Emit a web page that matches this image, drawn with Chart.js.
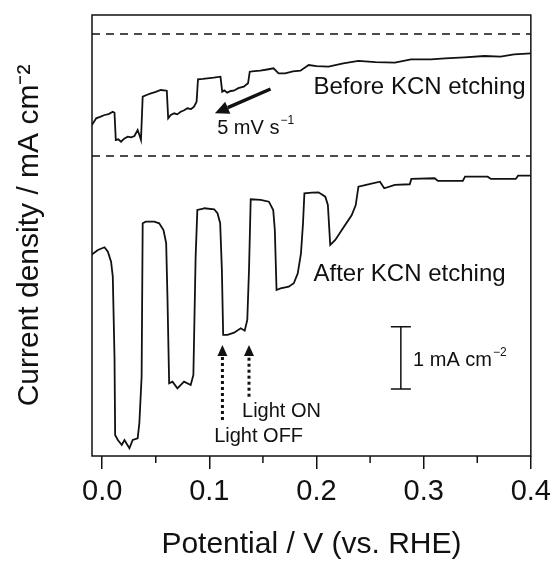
<!DOCTYPE html>
<html>
<head>
<meta charset="utf-8">
<script src="https://cdn.jsdelivr.net/npm/chart.js@4.4.1/dist/chart.umd.min.js"></script>
<style>
  html, body { margin: 0; padding: 0; background: #fff; }
  #wrap { width: 557px; height: 563px; }
</style>
</head>
<body>
<div id="wrap"><canvas id="c"></canvas></div>
<script>
// potential (V vs RHE) and current density (mA cm-2)
const beforeV = [-0.0096, -0.0056, -0.0020, 0.0022, 0.0060, 0.0099, 0.0115, 0.0127, 0.0150, 0.0176,
  0.0205, 0.0238, 0.0270, 0.0301, 0.0331, 0.0345, 0.0362, 0.0378, 0.0420, 0.0455,
  0.0500, 0.0547, 0.0603, 0.0616, 0.0640, 0.0672, 0.0700, 0.0733, 0.0765, 0.0795,
  0.0830, 0.0857, 0.0881, 0.0894, 0.0940, 0.0981, 0.1040, 0.1104, 0.1120, 0.1140,
  0.1166, 0.1200, 0.1228, 0.1270, 0.1321, 0.1361, 0.1377, 0.1420, 0.1475, 0.1540,
  0.1599, 0.1646, 0.1707, 0.1780, 0.1850, 0.1927, 0.2000, 0.2112, 0.2250, 0.2391,
  0.2550, 0.2731, 0.2882, 0.3068, 0.3200, 0.3380, 0.3566, 0.3717, 0.3844, 0.4005];
const beforeJ = [-1.461, -1.353, -1.330, -1.300, -1.285, -1.247, -1.263, -1.701, -1.690, -1.729,
  -1.680, -1.648, -1.660, -1.637, -1.541, -1.610, -1.701, -1.006, -0.975, -0.952,
  -0.930, -0.899, -0.910, -1.353, -1.300, -1.273, -1.290, -1.247, -1.225, -1.193,
  -1.205, -1.167, -1.087, -0.727, -0.720, -0.711, -0.700, -0.685, -0.926, -0.905,
  -0.942, -0.915, -0.910, -0.870, -0.846, -0.791, -0.605, -0.595, -0.589, -0.570,
  -0.551, -0.631, -0.631, -0.600, -0.589, -0.498, -0.515, -0.525, -0.470, -0.433,
  -0.450, -0.461, -0.406, -0.406, -0.390, -0.374, -0.353, -0.364, -0.326, -0.310];

const afterV = [-0.0102, -0.0040, 0.0022, 0.0053, 0.0083, 0.0099, 0.0115, 0.0121, 0.0146, 0.0183,
  0.0208, 0.0254, 0.0285, 0.0331, 0.0347, 0.0368, 0.0378, 0.0408, 0.0486, 0.0532,
  0.0572, 0.0597, 0.0609, 0.0625, 0.0656, 0.0702, 0.0764, 0.0826, 0.0851, 0.0872,
  0.0888, 0.0934, 0.0953, 0.1045, 0.1076, 0.1101, 0.1117, 0.1129, 0.1169, 0.1231,
  0.1293, 0.1330, 0.1354, 0.1370, 0.1386, 0.1479, 0.1556, 0.1596, 0.1611, 0.1627,
  0.1664, 0.1741, 0.1788, 0.1825, 0.1855, 0.1874, 0.1887, 0.1957, 0.2019, 0.2082,
  0.2106, 0.2128, 0.2175, 0.2236, 0.2329, 0.2366, 0.2391, 0.2483, 0.2592, 0.2632,
  0.2731, 0.2870, 0.2885, 0.3102, 0.3133, 0.3365, 0.3386, 0.3597, 0.3627, 0.3859,
  0.3881, 0.4005];
const afterJ = [-1.589, -1.509, -1.465, -1.536, -1.697, -1.937, -3.222, -4.478, -4.559, -4.639,
  -4.559, -4.692, -4.559, -4.531, -4.286, -3.543, -1.081, -1.055, -1.055, -1.081,
  -1.188, -1.396, -2.258, -3.648, -3.623, -3.729, -3.623, -3.676, -3.515, -1.616,
  -0.867, -0.851, -0.839, -0.855, -0.920, -1.080, -1.830, -2.873, -2.873, -2.836,
  -2.766, -2.804, -2.632, -1.830, -0.695, -0.706, -0.734, -0.867, -1.188, -2.151,
  -2.124, -2.098, -2.043, -1.883, -1.562, -1.080, -0.599, -0.589, -0.583, -0.653,
  -0.787, -1.429, -1.348, -1.188, -0.947, -0.787, -0.493, -0.454, -0.413, -0.518,
  -0.465, -0.454, -0.369, -0.358, -0.401, -0.401, -0.332, -0.332, -0.369, -0.369,
  -0.316, -0.316];

const xTicks = [0.0, 0.1, 0.2, 0.3, 0.4];
const xMinorTicks = [0.05, 0.15, 0.25, 0.35];
const xMin = -0.0095, xMax = 0.4;
const yMin = -6.774, yMax = 0.305;

// vertical offset of the "after" trace so the two do not overlap
const afterOffset = -1.958;

const FONT = "'Liberation Sans', Arial, sans-serif";

function pts(xs, ys, off) {
  return xs.map((x, i) => ({ x: x, y: ys[i] + off }));
}

function zeroLine(off) {
  return [{ x: xMin, y: off }, { x: xMax, y: off }];
}

function supText(ctx, x, y, main, sup, size) {
  ctx.font = size + "px " + FONT;
  ctx.textAlign = "left";
  ctx.textBaseline = "middle";
  ctx.fillText(main, x, y);
  const w = ctx.measureText(main).width;
  ctx.font = Math.round(size * 0.62) + "px " + FONT;
  ctx.fillText(sup, x + w + 1, y - size * 0.38);
}

function arrow(ctx, x1, y1, x2, y2, lw, headLen, headW, dash) {
  const ang = Math.atan2(y2 - y1, x2 - x1);
  const bx = x2 - headLen * Math.cos(ang), by = y2 - headLen * Math.sin(ang);
  ctx.save();
  ctx.lineWidth = lw;
  ctx.setLineDash(dash || []);
  ctx.beginPath();
  ctx.moveTo(x1, y1);
  ctx.lineTo(bx, by);
  ctx.stroke();
  ctx.setLineDash([]);
  ctx.beginPath();
  ctx.moveTo(x2, y2);
  ctx.lineTo(bx + headW / 2 * Math.sin(ang), by - headW / 2 * Math.cos(ang));
  ctx.lineTo(bx - headW / 2 * Math.sin(ang), by + headW / 2 * Math.cos(ang));
  ctx.closePath();
  ctx.fill();
  ctx.restore();
}

const decor = {
  id: "decor",
  afterDraw(chart) {
    const ctx = chart.ctx;
    const a = chart.chartArea;
    const xs = chart.scales.x, ys = chart.scales.y;
    const X = v => xs.getPixelForValue(v);
    const Y = v => ys.getPixelForValue(v);
    ctx.save();
    ctx.strokeStyle = "#111";
    ctx.fillStyle = "#111";

    // frame
    ctx.lineWidth = 1.5;
    ctx.strokeRect(a.left, a.top, a.right - a.left, a.bottom - a.top);

    // minor ticks
    xMinorTicks.forEach(v => {
      ctx.beginPath();
      ctx.moveTo(X(v), a.bottom);
      ctx.lineTo(X(v), a.bottom + 7);
      ctx.stroke();
    });

    // labels
    ctx.font = "24px " + FONT;
    ctx.textAlign = "left";
    ctx.textBaseline = "middle";
    ctx.fillText("Before KCN etching", X(0.1972), Y(-0.851));
    ctx.fillText("After KCN etching", X(0.1972), Y(-3.852));
    ctx.font = "20px " + FONT;
    ctx.fillText("Light ON", X(0.1305), Y(-6.063));
    ctx.fillText("Light OFF", X(0.1045), Y(-6.464));
    supText(ctx, X(0.1073), Y(-1.509), "5 mV s", "\u22121", 20);
    supText(ctx, X(0.2901), Y(-5.233), "1 mA cm", "\u22122", 20);

    // scan direction arrow
    arrow(ctx, X(0.1571), Y(-0.883), X(0.1052), Y(-1.273), 3.5, 14, 13);

    // light on/off arrows
    arrow(ctx, X(0.1122), Y(-6.196), X(0.1122), Y(-4.992), 3, 11, 10, [3, 3]);
    arrow(ctx, X(0.1370), Y(-5.822), X(0.1370), Y(-4.992), 3, 11, 10, [3, 3]);

    // 1 mA cm-2 scale bar
    const sx = X(0.2787), sTop = Y(-4.698), sBot = Y(-5.698);
    ctx.lineWidth = 1.5;
    ctx.beginPath();
    ctx.moveTo(sx, sTop); ctx.lineTo(sx, sBot);
    ctx.moveTo(sx - 10, sTop); ctx.lineTo(sx + 10, sTop);
    ctx.moveTo(sx - 10, sBot); ctx.lineTo(sx + 10, sBot);
    ctx.stroke();
    ctx.restore();
  }
};

new Chart(document.getElementById("c"), {
  type: "line",
  data: {
    datasets: [
      {
        label: "zero before",
        data: zeroLine(0),
        borderColor: "#111",
        borderWidth: 1.5,
        borderDash: [8, 6],
        pointRadius: 0,
      },
      {
        label: "zero after",
        data: zeroLine(afterOffset),
        borderColor: "#111",
        borderWidth: 1.5,
        borderDash: [8, 6],
        pointRadius: 0,
      },
      {
        label: "Before KCN etching",
        data: pts(beforeV, beforeJ, 0),
        borderColor: "#111",
        borderWidth: 1.8,
        pointRadius: 0,
        tension: 0,
      },
      {
        label: "After KCN etching",
        data: pts(afterV, afterJ, afterOffset),
        borderColor: "#111",
        borderWidth: 1.8,
        pointRadius: 0,
        tension: 0,
      },
    ],
  },
  options: {
    responsive: true,
    maintainAspectRatio: false,
    animation: false,
    devicePixelRatio: 1,
    layout: { padding: { top: 15, right: 23, bottom: 0, left: 0 } },
    scales: {
      x: {
        type: "linear",
        min: xMin,
        max: xMax,
        afterBuildTicks: s => { s.ticks = xTicks.map(v => ({ value: v })); },
        afterFit: s => { s.height = 107; },
        border: { display: false },
        grid: {
          drawOnChartArea: false,
          drawTicks: true,
          tickLength: 13,
          color: "#111",
          lineWidth: 1.5,
        },
        ticks: {
          padding: 6,
          color: "#111",
          font: { family: FONT, size: 29 },
          maxRotation: 0,
          callback: v => v.toFixed(1),
        },
        title: {
          display: true,
          text: "Potential / V (vs. RHE)",
          color: "#111",
          font: { family: FONT, size: 30 },
          padding: { top: 0, bottom: 0 },
        },
      },
      y: {
        type: "linear",
        min: yMin,
        max: yMax,
        afterFit: s => { s.width = 92; },
        border: { display: false },
        grid: { display: false },
        ticks: { display: false },
        title: {
          display: true,
          text: "Current density / mA cm\u207B\u00B2",
          color: "#111",
          font: { family: FONT, size: 30 },
          padding: { top: 12, bottom: 0 },
        },
      },
    },
    plugins: {
      legend: { display: false },
      tooltip: { enabled: false },
    },
  },
  plugins: [decor],
});
</script>
</body>
</html>
